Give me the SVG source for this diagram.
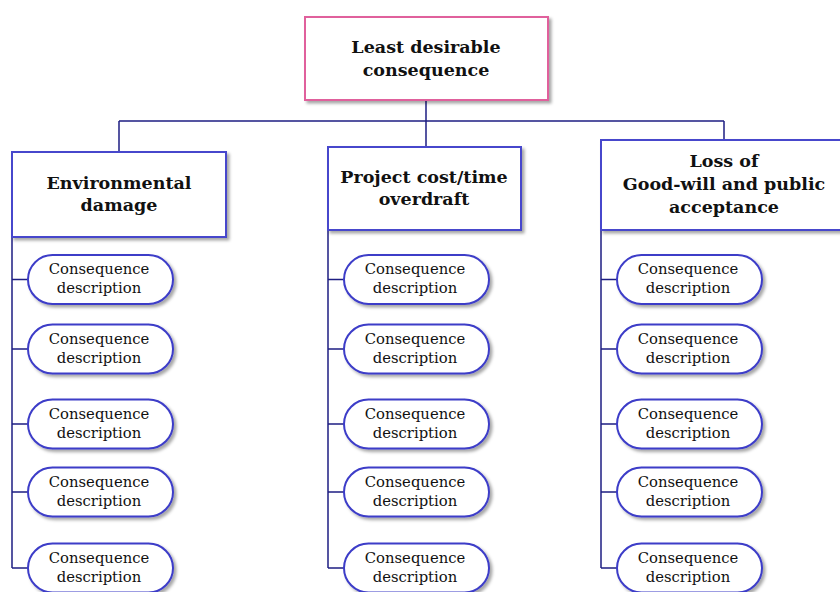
<svg xmlns="http://www.w3.org/2000/svg" width="840" height="592" viewBox="0 0 840 592">
<defs>
<filter id="sh" x="-10%" y="-10%" width="130%" height="140%">
<feDropShadow dx="2.5" dy="2.5" stdDeviation="1.5" flood-color="#000" flood-opacity="0.35"/>
</filter>
<style>
.top{fill:#fff;stroke:#e0609c;stroke-width:2;filter:url(#sh)}
.cat{fill:#fff;stroke:#4646cc;stroke-width:2;filter:url(#sh)}
.pill{fill:#fff;stroke:#3c3cc8;stroke-width:2;filter:url(#sh)}
.ln{fill:none;stroke:#1e1e82;stroke-width:1.5}
.h{font-family:"DejaVu Serif","Liberation Serif",serif;font-weight:bold;font-size:17.5px;fill:#111;text-anchor:middle}
.p{font-family:"DejaVu Serif","Liberation Serif",serif;font-size:14.8px;fill:#111;text-anchor:middle}
</style>
</defs>
<rect width="840" height="592" fill="#fff"/>
<g id="connectors">
<path class="ln" d="M426 100V121M119 121H724M119 121V152M426 121V147M724 121V140"/>
<path class="ln" d="M12 237V568M12 279.5H28M12 349H28M12 424H28M12 492H28M12 568H28"/>
<path class="ln" d="M328 230V568M328 279.5H344M328 349H344M328 424H344M328 492H344M328 568H344"/>
<path class="ln" d="M601 230V568M601 279.5H617M601 349H617M601 424H617M601 492H617M601 568H617"/>
</g>
<g id="root"><rect class="top" x="305" y="17" width="243" height="83"/>
<text class="h" x="426" y="53">Least desirable</text><text class="h" x="426" y="76">consequence</text></g>
<g id="env"><rect class="cat" x="12" y="152" width="214" height="85"/>
<text class="h" x="119" y="189">Environmental</text><text class="h" x="119" y="211">damage</text></g>
<g id="cost"><rect class="cat" x="328" y="147" width="193" height="83"/>
<text class="h" x="424" y="183">Project cost/time</text><text class="h" x="424" y="205">overdraft</text></g>
<g id="loss"><rect class="cat" x="601" y="140" width="246" height="90"/>
<text class="h" x="724" y="167">Loss of</text><text class="h" x="724" y="190">Good-will and public</text><text class="h" x="724" y="213">acceptance</text></g>
<g id="env1"><rect class="pill" x="28" y="255" width="145" height="49" rx="24.5"/><text class="p" x="99" y="274">Consequence</text><text class="p" x="99" y="293">description</text></g>
<g id="env2"><rect class="pill" x="28" y="324.5" width="145" height="49" rx="24.5"/><text class="p" x="99" y="343.5">Consequence</text><text class="p" x="99" y="362.5">description</text></g>
<g id="env3"><rect class="pill" x="28" y="399.5" width="145" height="49" rx="24.5"/><text class="p" x="99" y="418.5">Consequence</text><text class="p" x="99" y="437.5">description</text></g>
<g id="env4"><rect class="pill" x="28" y="467.5" width="145" height="49" rx="24.5"/><text class="p" x="99" y="486.5">Consequence</text><text class="p" x="99" y="505.5">description</text></g>
<g id="env5"><rect class="pill" x="28" y="543.5" width="145" height="49" rx="24.5"/><text class="p" x="99" y="562.5">Consequence</text><text class="p" x="99" y="581.5">description</text></g>
<g id="cost1"><rect class="pill" x="344" y="255" width="145" height="49" rx="24.5"/><text class="p" x="415" y="274">Consequence</text><text class="p" x="415" y="293">description</text></g>
<g id="cost2"><rect class="pill" x="344" y="324.5" width="145" height="49" rx="24.5"/><text class="p" x="415" y="343.5">Consequence</text><text class="p" x="415" y="362.5">description</text></g>
<g id="cost3"><rect class="pill" x="344" y="399.5" width="145" height="49" rx="24.5"/><text class="p" x="415" y="418.5">Consequence</text><text class="p" x="415" y="437.5">description</text></g>
<g id="cost4"><rect class="pill" x="344" y="467.5" width="145" height="49" rx="24.5"/><text class="p" x="415" y="486.5">Consequence</text><text class="p" x="415" y="505.5">description</text></g>
<g id="cost5"><rect class="pill" x="344" y="543.5" width="145" height="49" rx="24.5"/><text class="p" x="415" y="562.5">Consequence</text><text class="p" x="415" y="581.5">description</text></g>
<g id="loss1"><rect class="pill" x="617" y="255" width="145" height="49" rx="24.5"/><text class="p" x="688" y="274">Consequence</text><text class="p" x="688" y="293">description</text></g>
<g id="loss2"><rect class="pill" x="617" y="324.5" width="145" height="49" rx="24.5"/><text class="p" x="688" y="343.5">Consequence</text><text class="p" x="688" y="362.5">description</text></g>
<g id="loss3"><rect class="pill" x="617" y="399.5" width="145" height="49" rx="24.5"/><text class="p" x="688" y="418.5">Consequence</text><text class="p" x="688" y="437.5">description</text></g>
<g id="loss4"><rect class="pill" x="617" y="467.5" width="145" height="49" rx="24.5"/><text class="p" x="688" y="486.5">Consequence</text><text class="p" x="688" y="505.5">description</text></g>
<g id="loss5"><rect class="pill" x="617" y="543.5" width="145" height="49" rx="24.5"/><text class="p" x="688" y="562.5">Consequence</text><text class="p" x="688" y="581.5">description</text></g>
</svg>
